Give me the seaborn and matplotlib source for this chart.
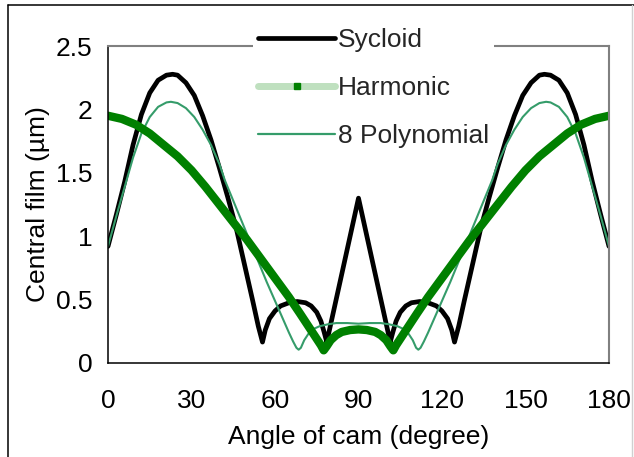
import matplotlib
matplotlib.use("Agg")
import matplotlib.pyplot as plt
import seaborn as sns
import pandas as pd
from matplotlib.lines import Line2D
from matplotlib.ticker import FuncFormatter

# Cam angle (degree) and central film thickness (um) for each motion law
sycloid_angle = [0, 3, 6, 9, 12, 15, 18, 21, 23.2, 25, 28, 31, 34, 37, 40, 43, 46, 49, 52, 54,
                 55.5, 56.5, 58, 60, 62, 65, 68, 71, 73, 75, 76.5, 77.7, 78.6, 90,
                 101.4, 102.3, 103.5, 105, 107, 109, 112, 115, 118, 120, 122, 123.5, 124.5,
                 126, 128, 131, 134, 137, 140, 143, 146, 149, 152, 155, 156.8, 159, 162, 165,
                 168, 171, 174, 177, 180]
sycloid_film = [0.92, 1.17, 1.43, 1.72, 1.96, 2.13, 2.23, 2.27, 2.277, 2.27, 2.21, 2.11, 1.95,
                1.76, 1.54, 1.31, 1.07, 0.78, 0.49, 0.29, 0.165, 0.26, 0.35, 0.41, 0.45, 0.475,
                0.485, 0.475, 0.45, 0.40, 0.33, 0.24, 0.165, 1.30,
                0.165, 0.24, 0.33, 0.40, 0.45, 0.475, 0.485, 0.475, 0.45, 0.41, 0.35, 0.26,
                0.165, 0.29, 0.49, 0.78, 1.07, 1.31, 1.54, 1.76, 1.95, 2.11, 2.21, 2.27, 2.277,
                2.27, 2.23, 2.13, 1.96, 1.72, 1.43, 1.17, 0.92]

harmonic_angle = [0, 5, 10, 15, 20, 25, 30, 35, 40, 45, 50, 55, 60, 65, 69, 72, 75, 76.5, 77.5,
                  78.5, 80, 82, 84, 87, 90, 93, 96, 98, 100, 101.5, 102.5, 103.5, 105, 108,
                  111, 115, 120, 125, 130, 135, 140, 145, 150, 155, 160, 165, 170, 175, 180]
harmonic_film = [1.95, 1.925, 1.88, 1.81, 1.72, 1.63, 1.52, 1.39, 1.25, 1.11, 0.97, 0.82, 0.67,
                 0.52, 0.39, 0.29, 0.19, 0.14, 0.10, 0.13, 0.18, 0.22, 0.245, 0.26, 0.265,
                 0.26, 0.245, 0.22, 0.18, 0.13, 0.10, 0.14, 0.19, 0.29, 0.39, 0.52, 0.67, 0.82,
                 0.97, 1.11, 1.25, 1.39, 1.52, 1.63, 1.72, 1.81, 1.88, 1.925, 1.95]

poly_angle = [0, 3, 6, 9, 12, 15, 18, 21, 22.6, 25, 28, 31, 34, 37, 40, 42, 45, 48, 51, 54, 57,
              60, 63, 65, 66.5, 67.7, 68.5, 69.3, 70.5, 72, 74, 76, 79, 82, 86, 90,
              94, 98, 101, 104, 106, 108, 109.5, 110.7, 111.5, 112.3, 113.5, 115, 117, 120,
              123, 126, 129, 132, 135, 138, 140, 143, 146, 149, 152, 155, 157.4, 159, 162,
              165, 168, 171, 174, 177, 180]
poly_film = [0.92, 1.16, 1.39, 1.62, 1.81, 1.94, 2.02, 2.055, 2.06, 2.05, 2.01, 1.94, 1.84, 1.72,
             1.57, 1.44, 1.28, 1.12, 0.96, 0.80, 0.64, 0.49, 0.34, 0.24, 0.17, 0.12, 0.105,
             0.12, 0.18, 0.23, 0.27, 0.29, 0.305, 0.315, 0.315, 0.31,
             0.315, 0.315, 0.305, 0.29, 0.27, 0.23, 0.18, 0.12, 0.105, 0.12, 0.17, 0.24, 0.34,
             0.49, 0.64, 0.80, 0.96, 1.12, 1.28, 1.44, 1.57, 1.72, 1.84, 1.94, 2.01, 2.05,
             2.06, 2.055, 2.02, 1.94, 1.81, 1.62, 1.39, 1.16, 0.92]

series_names = ["Sycloid", "Harmonic", "8 Polynomial"]
x_ticks = [0, 30, 60, 90, 120, 150, 180]
y_ticks = [0, 0.5, 1, 1.5, 2, 2.5]

BLACK = "#000000"
DARK_GREEN = "#008000"
LIGHT_GREEN = "#bfe0bf"
SEA_GREEN = "#359c6a"
FS = 19

sns.set_theme(style="white")
plt.rcParams["font.family"] = ["Liberation Sans", "DejaVu Sans"]

W, H = 634, 457
fig = plt.figure(figsize=(W / 100, H / 100), dpi=100)
ax = fig.add_axes([108 / W, (H - 363) / H, 501 / W, 317 / H])

syc = pd.DataFrame({"angle": sycloid_angle, "film": sycloid_film})
har = pd.DataFrame({"angle": harmonic_angle, "film": harmonic_film})
pol = pd.DataFrame({"angle": poly_angle, "film": poly_film})

sns.lineplot(data=syc, x="angle", y="film", ax=ax, color=BLACK, lw=3.4,
             sort=False, estimator=None, legend=False)
sns.lineplot(data=pol, x="angle", y="film", ax=ax, color=SEA_GREEN, lw=1.5,
             sort=False, estimator=None, legend=False)
sns.lineplot(data=har, x="angle", y="film", ax=ax, color=DARK_GREEN, lw=6.0,
             sort=False, estimator=None, legend=False)

ax.set_xlim(0, 180)
ax.set_ylim(0, 2.5)
ax.set_xticks(x_ticks)
ax.set_yticks(y_ticks)
fmt = FuncFormatter(lambda v, p: f"{v:g}")
ax.xaxis.set_major_formatter(fmt)
ax.yaxis.set_major_formatter(fmt)
ax.tick_params(axis="both", direction="out", length=6, width=1, color="black",
               labelsize=FS, labelcolor="black")
ax.tick_params(axis="x", pad=13)
ax.tick_params(axis="y", pad=5)
ax.grid(False)

for side in ("left", "bottom"):
    ax.spines[side].set_color("black")
    ax.spines[side].set_linewidth(1.1)
for side in ("top", "right"):
    ax.spines[side].set_color("#808080")
    ax.spines[side].set_linewidth(1.5)

ax.set_xlabel("Angle of cam (degree)", fontsize=FS, color="black")
ax.set_ylabel("Central film (µm)", fontsize=FS, color="black")
ax.xaxis.set_label_coords(0.5, (363 - 425) / 317)
ax.yaxis.set_label_coords((50 - 108) / 501, 0.5)

handles = [
    Line2D([], [], color=BLACK, lw=3.4),
    Line2D([], [], color=LIGHT_GREEN, lw=5, marker="s", markersize=5,
           markerfacecolor=DARK_GREEN, markeredgecolor=DARK_GREEN),
    Line2D([], [], color=SEA_GREEN, lw=1.6),
]
fig.legend(handles, series_names, loc="upper left",
           bbox_to_anchor=(240 / W, 1 - 10 / H), frameon=True, fancybox=False,
           framealpha=1, facecolor="white", edgecolor="none", fontsize=FS,
           handlelength=2.9, handletextpad=0.1, labelspacing=0.9, borderpad=0.2)

# outer chart frame
fig.add_artist(Line2D([8 / W, 8 / W], [0, 1 - 5 / H], transform=fig.transFigure,
                      color="black", lw=1.1))
fig.add_artist(Line2D([8 / W, 1], [1 - 5 / H, 1 - 5 / H], transform=fig.transFigure,
                      color="black", lw=1.1))
fig.add_artist(Line2D([632 / W, 632 / W], [0, 1 - 5 / H], transform=fig.transFigure,
                      color="#d0d0d0", lw=1.0))

fig.savefig("out.png", dpi=100)
